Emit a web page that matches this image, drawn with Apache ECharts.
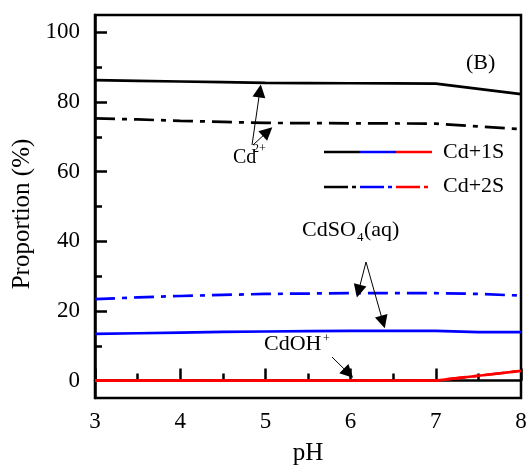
<!DOCTYPE html>
<html>
<head>
<meta charset="utf-8">
<script src="https://cdn.jsdelivr.net/npm/echarts@6/dist/echarts.min.js"></script>
<style>html,body{margin:0;padding:0;background:#fff}#c{width:532px;height:468px}</style>
</head>
<body>
<div id="c"></div>
<script>
// pH values (x)
const pH = [3, 3.5, 4, 4.5, 5, 5.5, 6, 6.5, 7, 7.5, 8];
// Cd+1S (solid lines)
const cd2_1S    = [86.3, 86.1, 85.9, 85.7, 85.5, 85.45, 85.4, 85.35, 85.3, 83.8, 82.3];
const cdso4_1S  = [13.4, 13.6, 13.8, 14.0, 14.1, 14.2, 14.3, 14.3, 14.3, 13.9, 13.9];
const cdoh_1S   = [0, 0, 0, 0, 0, 0, 0, 0, 0, 1.4, 2.8];
// Cd+2S (dash-dot lines)
const cd2_2S    = [75.3, 75.0, 74.6, 74.3, 74.0, 73.95, 73.9, 73.85, 73.8, 73.0, 72.2];
const cdso4_2S  = [23.4, 23.9, 24.3, 24.6, 24.9, 25.0, 25.1, 25.1, 25.1, 24.9, 24.4];
const cdoh_2S   = [0, 0, 0, 0, 0, 0, 0, 0, 0, 1.4, 2.8];
// axis ticks
const yMajorTicks = [0, 20, 40, 60, 80, 100];
const yMinorTicks = [10, 30, 50, 70, 90];
// annotation arrows [from [pH, %], to [pH, %]]
const arrows = [
  [[4.843, 67.66], [4.935, 83.2]],
  [[4.854, 67.66], [5.025, 71.5]],
  [[6.181, 34.06], [6.093, 25.7]],
  [[6.181, 34.06], [6.380, 16.8]],
  [[5.782, 6.77], [5.975, 2.1]]
];

const FONT = '"Liberation Serif", "Times New Roman", serif';
const BLACK = '#000000', BLUE = '#0000ff', RED = '#ff0000';
const DASHDOT = [20, 7, 5, 7];
const LW = 2.7;

function pts(ys) { return pH.map((x, i) => [x, ys[i]]); }
function ser(name, ys, color, dashed, z) {
  return {
    name: name, type: 'line', data: pts(ys), showSymbol: false, symbol: 'none',
    z: z, silent: true, animation: false,
    lineStyle: { color: color, width: LW, type: dashed ? DASHDOT : 'solid', cap: 'butt' }
  };
}

const series = [
  ser('cd2_2S', cd2_2S, BLACK, true, 2),
  ser('cdso4_2S', cdso4_2S, BLUE, true, 2),
  ser('cdoh_2S', cdoh_2S, RED, true, 2),
  ser('cd2_1S', cd2_1S, BLACK, false, 3),
  ser('cdso4_1S', cdso4_1S, BLUE, false, 3),
  ser('cdoh_1S', cdoh_1S, RED, false, 3)
];
series[5].markLine = {
  silent: true, animation: false,
  symbol: ['none', 'triangle'], symbolSize: 13,
  label: { show: false },
  lineStyle: { color: '#000', width: 1, type: 'solid' },
  itemStyle: { color: '#000' },
  emphasis: { disabled: true },
  data: arrows.map(a => [{ coord: a[0] }, { coord: a[1] }])
};

function txt(s, x, y, size, extra) {
  return Object.assign({
    type: 'text', x: x, y: y, z: 100,
    style: { text: s, fill: '#000', font: size + 'px ' + FONT, textAlign: 'left', textVerticalAlign: 'middle' }
  }, extra || {});
}
function seg(x1, x2, y, color, dash) {
  return { type: 'line', z: 100, shape: { x1: x1, y1: y, x2: x2, y2: y },
    style: { stroke: color, lineWidth: LW, lineDash: dash || null, lineCap: 'butt' } };
}

const chart = echarts.init(document.getElementById('c'), null, { renderer: 'canvas' });
chart.setOption({
  animation: false,
  backgroundColor: '#fff',
  grid: { left: 95, right: 11, top: 15, bottom: 70, show: true, borderColor: '#000', borderWidth: 2.5, outerBoundsMode: 'none', containLabel: false },
  xAxis: {
    type: 'value', min: 3, max: 8, interval: 1,
    name: 'pH', nameLocation: 'middle', nameGap: 43,
    nameTextStyle: { fontFamily: FONT, fontSize: 25, color: '#000' },
    axisLine: { show: true, lineStyle: { color: '#000', width: 2.5 } },
    axisTick: { show: true, inside: true, length: 12, lineStyle: { color: '#000', width: 2.5 } },
    minorTick: { show: true, splitNumber: 2, length: 7, lineStyle: { color: '#000', width: 2.5 } },
    axisLabel: { fontFamily: FONT, fontSize: 23, color: '#000', margin: 12 },
    splitLine: { show: false }
  },
  yAxis: [{
    type: 'value', min: -5, max: 105,
    name: 'Proportion (%)', nameLocation: 'middle', nameGap: 60, nameRotate: 90,
    nameTextStyle: { fontFamily: FONT, fontSize: 25, color: '#000', padding: [0, 15, 0, 0] },
    axisLine: { show: true, lineStyle: { color: '#000', width: 2.5 } },
    axisTick: { show: true, inside: true, length: 12, customValues: yMajorTicks, lineStyle: { color: '#000', width: 2.5 } },
    axisLabel: { fontFamily: FONT, fontSize: 23, color: '#000', margin: 15, customValues: yMajorTicks },
    splitLine: { show: false }
  }, {
    type: 'value', min: -5, max: 105, position: 'left',
    axisLine: { show: false },
    axisTick: { show: true, inside: true, length: 7, customValues: yMinorTicks, lineStyle: { color: '#000', width: 2.5 } },
    axisLabel: { show: false },
    splitLine: { show: false }
  }],
  series: series,
  graphic: [
    txt('(B)', 466, 63, 22),
    txt('Cd', 233, 158, 20),
    txt('2+', 253, 149, 12),
    txt('CdSO', 302, 230, 22),
    txt('4', 357, 238, 13),
    txt('(aq)', 364, 230, 22),
    txt('CdOH', 264, 344, 22),
    txt('+', 323, 339, 12),
    txt('Cd+1S', 443, 152, 22),
    txt('Cd+2S', 443, 186, 22),
    seg(324, 360, 152, BLACK), seg(360, 396, 152, BLUE), seg(396, 432, 152, RED),
    seg(324, 357, 187, BLACK, [24, 4, 4, 4]), seg(360, 393, 187, BLUE, [24, 4, 4, 4]), seg(396, 429, 187, RED, [24, 4, 4, 4])
  ]
});
</script>
</body>
</html>
